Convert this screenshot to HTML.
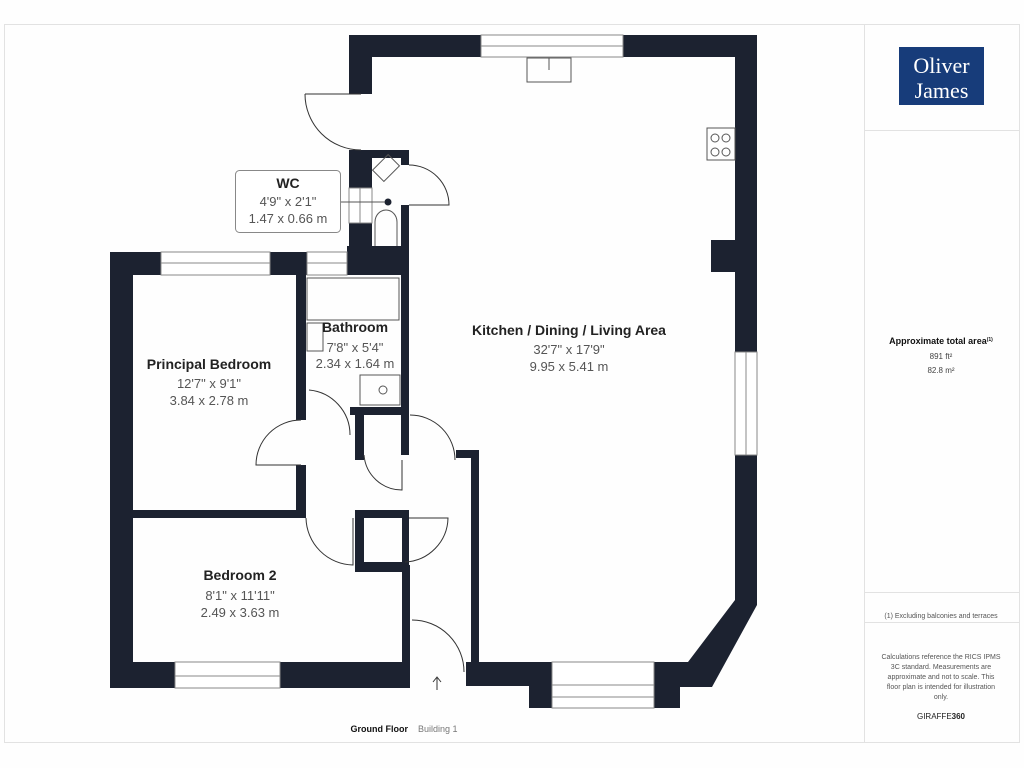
<!DOCTYPE html>
<html><head><meta charset="utf-8"><style>
html,body{margin:0;padding:0;background:#fff;}
svg{display:block}
text{font-family:"Liberation Sans",sans-serif;}
</style></head><body>
<svg width="1024" height="768" viewBox="0 0 1024 768" xmlns="http://www.w3.org/2000/svg">
<rect x="0" y="0" width="1024" height="768" fill="#fefefe"/>
<rect x="4.5" y="24.5" width="1015" height="718" fill="#fefefe" stroke="#e2e2e2"/>
<line x1="864.5" y1="25" x2="864.5" y2="742" stroke="#e2e2e2"/>
<line x1="865" y1="130.5" x2="1019" y2="130.5" stroke="#e2e2e2"/>
<line x1="865" y1="592.5" x2="1019" y2="592.5" stroke="#e2e2e2"/>
<line x1="865" y1="622.5" x2="1019" y2="622.5" stroke="#e2e2e2"/>
<!-- logo -->
<rect x="899" y="47" width="85" height="58" fill="#173c7a"/>
<text x="941.5" y="73" font-size="22" fill="#fff" text-anchor="middle" style="font-family:'Liberation Serif',serif">Oliver</text>
<text x="941.5" y="98" font-size="22" fill="#fff" text-anchor="middle" style="font-family:'Liberation Serif',serif">James</text>
<text x="941" y="344" font-size="9" font-weight="bold" fill="#111" text-anchor="middle">Approximate total area<tspan font-size="5" dy="-3">(1)</tspan></text>
<text x="941" y="359" font-size="8" fill="#444" text-anchor="middle">891 ft²</text>
<text x="941" y="373" font-size="8" fill="#444" text-anchor="middle">82.8 m²</text>
<text x="941" y="618" font-size="7" fill="#555" text-anchor="middle">(1) Excluding balconies and terraces</text>
<g font-size="7" fill="#555" text-anchor="middle">
<text x="941" y="659">Calculations reference the RICS IPMS</text>
<text x="941" y="669">3C standard. Measurements are</text>
<text x="941" y="679">approximate and not to scale. This</text>
<text x="941" y="689">floor plan is intended for illustration</text>
<text x="941" y="699">only.</text>
</g>
<text x="941" y="719" font-size="8" fill="#222" text-anchor="middle">GIRAFFE<tspan font-weight="bold">360</tspan></text>
<text x="408" y="732" font-size="9" font-weight="bold" fill="#111" text-anchor="end">Ground Floor</text>
<text x="418" y="732" font-size="9" fill="#777">Building 1</text>

<g fill="#1c2230">
<rect x="349" y="35" width="132" height="22"/>
<rect x="623" y="35" width="134" height="22"/>
<rect x="349" y="35" width="23" height="59"/>
<rect x="735" y="35" width="22" height="317"/>
<polygon points="735,455 757,455 757,605 712,687 680,687 680,662 688,662 735,600"/>
<rect x="711" y="240" width="24" height="32"/>
<rect x="466" y="662" width="86" height="24"/>
<rect x="529" y="662" width="23" height="46"/>
<rect x="654" y="662" width="26" height="46"/>
<rect x="654" y="662" width="34" height="24"/>
<rect x="456" y="450" width="23" height="8"/>
<rect x="471" y="450" width="8" height="236"/>
<rect x="349" y="150" width="60" height="8"/>
<rect x="349" y="150" width="23" height="38"/>
<rect x="349" y="223" width="23" height="52"/>
<rect x="401" y="150" width="8" height="15"/>
<rect x="401" y="205" width="8" height="250"/>
<rect x="347" y="246" width="62" height="29"/>
<rect x="110" y="252" width="51" height="23"/>
<rect x="270" y="252" width="37" height="23"/>
<rect x="110" y="252" width="23" height="436"/>
<rect x="110" y="662" width="65" height="26"/>
<rect x="280" y="662" width="130" height="26"/>
<rect x="402" y="565" width="8" height="123"/>
<rect x="296" y="275" width="10" height="145"/>
<rect x="296" y="465" width="10" height="53"/>
<rect x="133" y="510" width="173" height="8"/>
<rect x="350" y="407" width="59" height="8"/>
<rect x="355" y="407" width="9" height="53"/>
<path d="M355,510 H409 V518 H364 V562 H402 V518 H409 V572 H355 Z"/>
</g>
<g fill="#fff" stroke="#888" stroke-width="1">
<rect x="481" y="35" width="142" height="22"/><line x1="481" y1="46" x2="623" y2="46"/>
<rect x="735" y="352" width="22" height="103"/><line x1="746" y1="352" x2="746" y2="455"/>
<rect x="552" y="662" width="102" height="46"/><line x1="552" y1="685" x2="654" y2="685"/><line x1="552" y1="697" x2="654" y2="697"/>
<rect x="349" y="188" width="23" height="35"/><line x1="360" y1="188" x2="360" y2="223"/>
<rect x="161" y="252" width="109" height="23"/><line x1="161" y1="263" x2="270" y2="263"/>
<rect x="307" y="252" width="40" height="23"/><line x1="307" y1="263" x2="347" y2="263"/>
<rect x="175" y="662" width="105" height="26"/><line x1="175" y1="676" x2="280" y2="676"/>
</g>
<g fill="none" stroke="#333" stroke-width="1">
<path d="M305,94 H361 M305,94 A56,56 0 0 0 361,150"/>
<path d="M409,165 A40,40 0 0 1 449,205 H409"/>
<path d="M301,420 A45,45 0 0 0 256,465 H301"/>
<path d="M309,390 A45,45 0 0 1 350,435"/>
<path d="M410,415 A45,45 0 0 1 455,460"/>
<path d="M402,460 V490 A38,38 0 0 1 364,455"/>
<path d="M306,518 A48,48 0 0 0 353,565 V518"/>
<path d="M409,518 H448 A45,45 0 0 1 405,562"/>
<path d="M412,620 A52,52 0 0 1 464,672"/>
<path d="M437,690 V678 M433,682 L437,677 L441,682"/>
</g>
<g fill="none" stroke="#555" stroke-width="1">
<rect x="527" y="58" width="44" height="24"/><line x1="549" y1="58" x2="549" y2="70"/>
<rect x="707" y="128" width="28" height="32"/>
<circle cx="715" cy="138" r="4"/><circle cx="726" cy="138" r="4"/><circle cx="715" cy="152" r="4"/><circle cx="726" cy="152" r="4"/>
<rect x="375" y="160" width="22" height="16" transform="rotate(-45 386 168)"/>
<path d="M375,246 V222 A11,12 0 0 1 397,222 V246"/>
<rect x="307" y="278" width="92" height="42"/>
<rect x="307" y="323" width="16" height="28"/>
<rect x="360" y="375" width="40" height="30"/><circle cx="383" cy="390" r="4"/>
</g>
<circle cx="388" cy="202" r="3.5" fill="#1c2230"/>
<line x1="340" y1="202" x2="385" y2="202" stroke="#555"/>
<rect x="235.5" y="170.5" width="105" height="62" rx="4" fill="#fff" stroke="#888"/>
<g text-anchor="middle">
<text x="288" y="188" font-size="14" font-weight="bold" fill="#222">WC</text>
<text x="288" y="206" font-size="13" fill="#555">4'9" x 2'1"</text>
<text x="288" y="223" font-size="13" fill="#555">1.47 x 0.66 m</text>
<text x="569" y="335" font-size="14" font-weight="bold" fill="#222">Kitchen / Dining / Living Area</text>
<text x="569" y="354" font-size="13" fill="#555">32'7" x 17'9"</text>
<text x="569" y="371" font-size="13" fill="#555">9.95 x 5.41 m</text>
<text x="355" y="332" font-size="14" font-weight="bold" fill="#222">Bathroom</text>
<text x="355" y="352" font-size="13" fill="#555">7'8" x 5'4"</text>
<text x="355" y="368" font-size="13" fill="#555">2.34 x 1.64 m</text>
<text x="209" y="369" font-size="14" font-weight="bold" fill="#222">Principal Bedroom</text>
<text x="209" y="388" font-size="13" fill="#555">12'7" x 9'1"</text>
<text x="209" y="405" font-size="13" fill="#555">3.84 x 2.78 m</text>
<text x="240" y="580" font-size="14" font-weight="bold" fill="#222">Bedroom 2</text>
<text x="240" y="600" font-size="13" fill="#555">8'1" x 11'11"</text>
<text x="240" y="617" font-size="13" fill="#555">2.49 x 3.63 m</text>
</g>
</svg>
</body></html>
